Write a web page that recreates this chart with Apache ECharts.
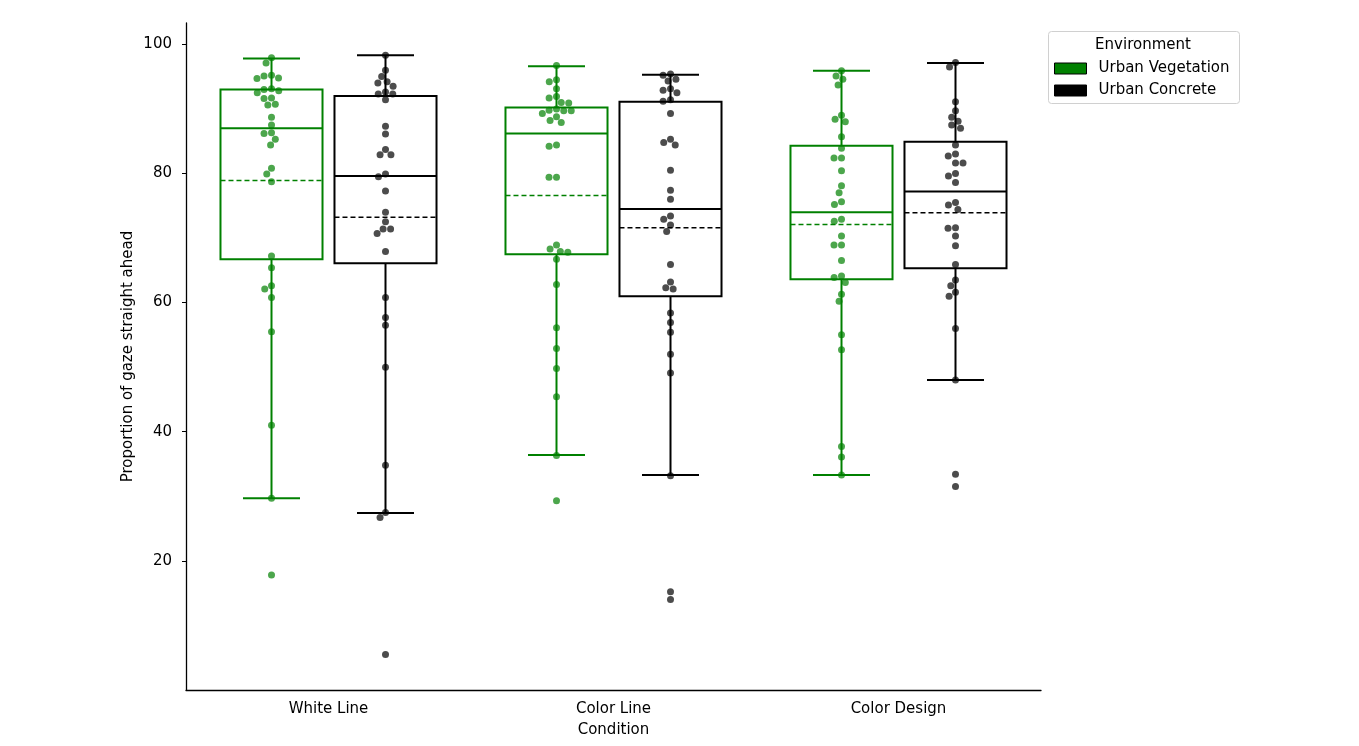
<!DOCTYPE html>
<html><head><meta charset="utf-8">
<script src="https://cdn.jsdelivr.net/npm/echarts@6/dist/echarts.min.js"></script>
<style>html,body{margin:0;padding:0;background:#fff}#c{width:1359px;height:746px}</style>
</head><body><div id="c"></div>
<script>
// ---------------- data ----------------
const categories = ['White Line', 'Color Line', 'Color Design'];
const groups = ['Urban Vegetation', 'Urban Concrete'];
const yTicks = [20, 40, 60, 80, 100];

// individual observations (proportion of gaze straight ahead)
const vegWhiteLine = [97.9, 97.1, 95.2, 95.1, 94.8, 94.7, 93.1, 93.0, 92.8, 92.5, 91.7, 91.6, 90.7, 90.6, 88.7, 87.5, 86.3, 86.2, 85.3, 84.4, 80.8, 79.9, 78.7, 67.2, 65.4, 62.6, 62.1, 60.8, 55.5, 41.0, 29.7, 17.8];
const conWhiteLine = [98.3, 96.0, 95.0, 94.2, 94.0, 93.5, 92.6, 92.3, 92.3, 91.4, 87.3, 86.1, 83.7, 82.9, 82.9, 79.9, 79.5, 77.3, 74.0, 72.5, 71.4, 71.4, 70.7, 67.9, 60.8, 57.7, 56.5, 50.0, 34.8, 27.5, 26.7, 5.5];
const vegColorLine = [96.7, 94.5, 94.2, 93.1, 91.9, 91.7, 91.0, 90.9, 90.0, 89.8, 89.7, 89.7, 89.3, 88.8, 88.2, 87.9, 84.4, 84.2, 79.4, 79.4, 68.9, 68.3, 67.9, 67.8, 66.7, 62.8, 56.1, 52.9, 49.8, 45.4, 36.3, 29.3];
const conColorLine = [95.4, 95.2, 94.6, 94.3, 93.1, 92.9, 92.5, 91.4, 91.2, 89.3, 85.3, 84.8, 84.4, 80.5, 77.4, 76.0, 73.4, 72.9, 72.0, 71.0, 65.9, 63.2, 62.3, 62.1, 58.4, 56.9, 55.4, 52.0, 49.1, 33.2, 15.2, 14.0];
const vegColorDesign = [95.9, 95.1, 94.6, 93.7, 89.0, 88.4, 88.0, 85.7, 83.9, 82.4, 82.4, 80.4, 78.1, 77.0, 75.6, 75.2, 72.9, 72.6, 70.3, 68.9, 68.9, 66.5, 64.1, 63.9, 63.1, 61.3, 60.2, 55.0, 52.7, 37.7, 36.1, 33.3];
const conColorDesign = [97.2, 96.5, 91.1, 89.7, 88.7, 88.1, 87.5, 87.0, 84.4, 83.0, 82.7, 81.6, 81.6, 80.0, 79.6, 78.6, 75.5, 75.1, 74.4, 71.6, 71.5, 70.3, 68.8, 65.9, 63.5, 62.6, 61.6, 61.0, 56.0, 48.0, 33.4, 31.5];

// box statistics per category: [lower whisker, Q1, median, Q3, upper whisker]
const vegBoxStats = [[29.7, 66.7, 87.0, 93.0, 97.8], [36.4, 67.5, 86.2, 90.2, 96.6], [33.3, 63.6, 74.0, 84.3, 95.9]];
const conBoxStats = [[27.4, 66.1, 79.6, 92.0, 98.3], [33.3, 61.0, 74.5, 91.1, 95.3], [48.0, 65.3, 77.2, 84.9, 97.1]];
const vegMeans = [78.9, 76.6, 72.1];
const conMeans = [73.2, 71.6, 73.9];

// ---------------- styling ----------------
const colors = ['#008000', '#000000'];
const dodge = [-0.2, 0.2];
const boxHalf = 0.179, capHalf = 0.1;
const pointsByGroup = [[vegWhiteLine, vegColorLine, vegColorDesign], [conWhiteLine, conColorLine, conColorDesign]];
const statsByGroup = [vegBoxStats, conBoxStats];
const meansByGroup = [vegMeans, conMeans];
const FONT = 'DejaVu Sans';

function boxData(g) {
  return categories.map((c, i) => [i + dodge[g]].concat(statsByGroup[g][i], [meansByGroup[g][i]]));
}

function makeRender(color) {
  return function (params, api) {
    const x = api.value(0);
    const lo = api.value(1), q1 = api.value(2), med = api.value(3), q3 = api.value(4), hi = api.value(5), mean = api.value(6);
    const P = (a, b) => api.coord([a, b]);
    const tl = P(x - boxHalf, q3), br = P(x + boxHalf, q1);
    const st = { stroke: color, lineWidth: 2, fill: null };
    const line = (a, b, style) => ({ type: 'line', shape: { x1: a[0], y1: a[1], x2: b[0], y2: b[1] }, style: style || st });
    return {
      type: 'group',
      children: [
        { type: 'rect', shape: { x: tl[0], y: tl[1], width: br[0] - tl[0], height: br[1] - tl[1] }, style: { stroke: color, lineWidth: 2, fill: 'none' } },
        line(P(x - boxHalf, med), P(x + boxHalf, med)),
        line(P(x - boxHalf, mean), P(x + boxHalf, mean), { stroke: color, lineWidth: 1.5, lineDash: [5, 3] }),
        line(P(x, q3), P(x, hi)),
        line(P(x, q1), P(x, lo)),
        line(P(x - capHalf, hi), P(x + capHalf, hi)),
        line(P(x - capHalf, lo), P(x + capHalf, lo))
      ]
    };
  };
}

const chart = echarts.init(document.getElementById('c'), null, { renderer: 'canvas' });

const option = {
  animation: false,
  backgroundColor: '#fff',
  textStyle: { fontFamily: FONT },
  grid: { left: 186, right: 318, top: 23, bottom: 56, containLabel: false },
  legend: {
    orient: 'vertical', left: 1054, top: 61, padding: 0, itemWidth: 32, itemHeight: 11, itemGap: 7,
    selectedMode: false,
    textStyle: { fontFamily: FONT, fontSize: 15, color: '#000', padding: [0, 0, 0, 7] },
    data: [
      { name: groups[0], icon: 'rect', itemStyle: { color: colors[0], borderColor: '#000', borderWidth: 1 } },
      { name: groups[1], icon: 'rect', itemStyle: { color: colors[1], borderColor: '#000', borderWidth: 1 } }
    ]
  },
  graphic: [
    { type: 'rect', left: 1048, top: 31, shape: { width: 191, height: 72, r: 3 }, style: { fill: '#fff', stroke: '#d0d0d0', lineWidth: 1 }, z: -1 },
    { type: 'text', x: 1143, y: 45, style: { text: 'Environment', fontFamily: FONT, fontSize: 15, fill: '#000', align: 'center', verticalAlign: 'middle' } }
  ],
  xAxis: [
    {
      type: 'category', data: categories, boundaryGap: true,
      axisLine: { lineStyle: { color: '#000', width: 1.3 } },
      axisTick: { alignWithLabel: true, length: 4, lineStyle: { color: '#000' } },
      axisLabel: { color: '#000', fontSize: 15, fontFamily: FONT, margin: 12 },
      name: 'Condition', nameLocation: 'middle', nameGap: 33,
      nameTextStyle: { color: '#000', fontSize: 15, fontFamily: FONT },
      splitLine: { show: false }
    },
    { type: 'value', min: -0.5, max: 2.5, show: false }
  ],
  yAxis: [{
    type: 'value', min: 0, max: 103.3,
    axisLine: { show: true, onZero: false, lineStyle: { color: '#000', width: 1.3 } },
    axisTick: { show: true, length: 4, lineStyle: { color: '#000' }, customValues: yTicks },
    axisLabel: { color: '#000', fontSize: 15, fontFamily: FONT, margin: 14, customValues: yTicks },
    splitLine: { show: false },
    name: 'Proportion of gaze straight ahead', nameLocation: 'middle', nameGap: 50, nameMoveOverlap: false,
    nameTextStyle: { color: '#000', fontSize: 15, fontFamily: FONT }
  }],
  series: [0, 1].map(g => ({
    type: 'custom', name: groups[g], xAxisIndex: 1, yAxisIndex: 0,
    renderItem: makeRender(colors[g]),
    encode: { x: 0, y: [1, 2, 3, 4, 5, 6] },
    itemStyle: { color: colors[g] },
    data: boxData(g), z: 2, silent: true
  })).concat([0, 1].map(g => ({
    type: 'scatter', name: groups[g], xAxisIndex: 1, yAxisIndex: 0,
    symbol: 'circle', symbolSize: 7,
    itemStyle: { color: colors[g], opacity: 0.7 },
    data: [], z: 3, silent: true
  })))
};
chart.setOption(option);

// beeswarm layout (pixel space) from the library's scales
function swarm(centerPx, ysPx, d) {
  const order = ysPx.map((y, i) => i).sort((a, b) => ysPx[a] - ysPx[b]);
  const placed = [], xs = new Array(ysPx.length);
  for (const i of order) {
    const y = ysPx[i];
    const neigh = placed.filter(p => Math.abs(p.y - y) < d);
    const cands = [centerPx];
    for (const p of neigh) {
      const dx = Math.sqrt(d * d - (p.y - y) * (p.y - y));
      cands.push(p.x - dx, p.x + dx);
    }
    cands.sort((a, b) => Math.abs(a - centerPx) - Math.abs(b - centerPx));
    let chosen = centerPx;
    for (const c of cands) {
      if (neigh.every(p => (p.x - c) * (p.x - c) + (p.y - y) * (p.y - y) >= d * d - 1e-6)) { chosen = c; break; }
    }
    placed.push({ x: chosen, y: y });
    xs[i] = chosen;
  }
  return xs;
}

const D = 7.5;
const scatterData = [0, 1].map(g => {
  const out = [];
  categories.forEach((c, i) => {
    const vals = pointsByGroup[g][i];
    const cx = chart.convertToPixel({ xAxisIndex: 1 }, i + dodge[g]);
    const ys = vals.map(v => chart.convertToPixel({ yAxisIndex: 0 }, v));
    const xs = swarm(cx, ys, D);
    vals.forEach((v, k) => out.push([chart.convertFromPixel({ xAxisIndex: 1 }, xs[k]), v]));
  });
  return out;
});
chart.setOption({ series: [{}, {}, { data: scatterData[0] }, { data: scatterData[1] }] });
</script>
</body></html>
